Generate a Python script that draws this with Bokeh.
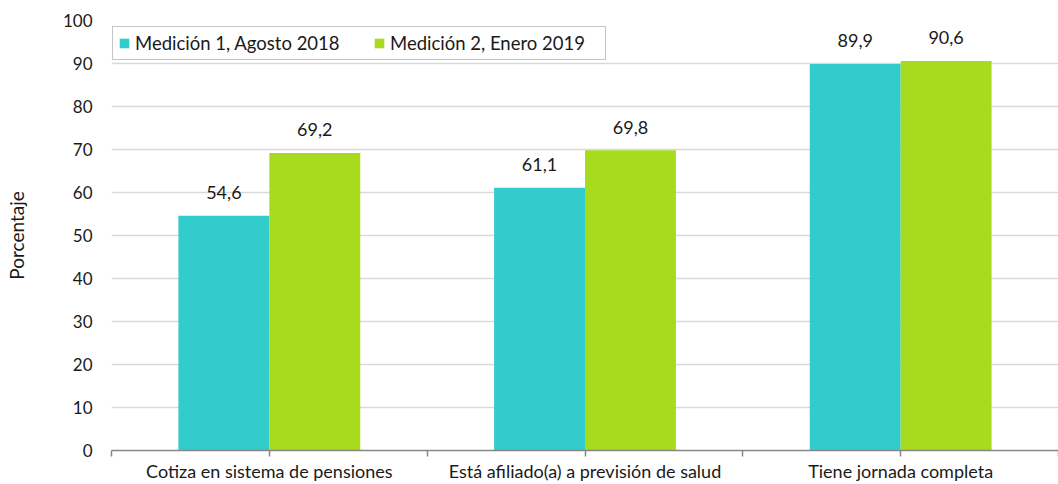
from bokeh.plotting import figure
from bokeh.models import ColumnDataSource, LabelSet, FixedTicker, Range1d, Legend, LegendItem
from bokeh.embed import file_html
from bokeh.resources import INLINE
from bokeh.core.properties import value

# ---- data ----
categories = ["Cotiza en sistema de pensiones",
              "Está afiliado(a) a previsión de salud",
              "Tiene jornada completa"]
series_names = ["Medición 1, Agosto 2018", "Medición 2, Enero 2019"]
medicion_1 = [54.6, 61.1, 89.9]
medicion_2 = [69.2, 69.8, 90.6]
y_ticks = [0, 10, 20, 30, 40, 50, 60, 70, 80, 90, 100]
y_label = "Porcentaje"

# ---- style ----
FONT = "Lato"
TEAL = "#33CCCC"
GREEN = "#A8DB1D"
TEXT = "#1a1a1a"
BAR_W = 0.288


def fmt(v):
    return f"{v:.1f}".replace(".", ",")


n = len(categories)
centers = [i + 0.5 for i in range(n)]

p = figure(width=1058, height=484, output_backend="svg", toolbar_location=None,
           x_range=Range1d(0, n), y_range=Range1d(y_ticks[0], y_ticks[-1]),
           min_border_left=111, min_border_top=20, min_border_bottom=33,
           min_border_right=0)
p.outline_line_color = None
p.background_fill_color = "white"

src1 = ColumnDataSource(dict(x=[c - BAR_W / 2 for c in centers], top=medicion_1,
                             label=[fmt(v) for v in medicion_1]))
src2 = ColumnDataSource(dict(x=[c + BAR_W / 2 for c in centers], top=medicion_2,
                             label=[fmt(v) for v in medicion_2]))

r1 = p.vbar(x="x", top="top", width=BAR_W, source=src1, fill_color=TEAL, line_color=None)
r2 = p.vbar(x="x", top="top", width=BAR_W, source=src2, fill_color=GREEN, line_color=None)

for src, bg in ((src1, None), (src2, "white")):
    ls = LabelSet(x="x", y="top", text="label", source=src, y_offset=23,
                  text_align="center", text_baseline="middle",
                  text_font=value(FONT), text_font_size="18px", text_color=TEXT,
                  background_fill_color=bg)
    p.add_layout(ls)

# y axis
p.yaxis.ticker = FixedTicker(ticks=y_ticks)
p.yaxis.axis_line_color = None
p.yaxis.major_tick_line_color = None
p.yaxis.major_tick_out = 0
p.yaxis.major_tick_in = 0
p.yaxis.minor_tick_line_color = None
p.yaxis.major_label_standoff = 19
p.yaxis.major_label_text_font = FONT
p.yaxis.major_label_text_font_size = "17px"
p.yaxis.major_label_text_color = TEXT
p.yaxis.axis_label = y_label
p.yaxis.axis_label_text_font = FONT
p.yaxis.axis_label_text_font_size = "19px"
p.yaxis.axis_label_text_font_style = "normal"
p.yaxis.axis_label_text_color = TEXT
p.yaxis.axis_label_standoff = 32

# x axis: ticks at category boundaries and centres, labels at centres
x_ticks = [i * 0.5 for i in range(2 * n + 1)]
overrides = {t: "" for t in x_ticks}
for c, name in zip(centers, categories):
    overrides[c] = name
p.xaxis.ticker = FixedTicker(ticks=x_ticks, minor_ticks=[])
p.xaxis.major_label_overrides = overrides
p.xaxis.major_label_text_font = FONT
p.xaxis.major_label_text_font_size = "18px"
p.xaxis.major_label_text_color = TEXT
p.xaxis.major_label_standoff = 3
p.xaxis.axis_line_color = "#868686"
p.xaxis.axis_line_width = 1.5
p.xaxis.major_tick_line_color = "#868686"
p.xaxis.major_tick_line_width = 1.5
p.xaxis.major_tick_in = 0
p.xaxis.major_tick_out = 6
p.xaxis.minor_tick_line_color = None

p.xgrid.visible = False
p.ygrid.grid_line_color = "#d9d9d9"
p.ygrid.grid_line_width = 1.5

legend = Legend(items=[LegendItem(label=series_names[0], renderers=[r1]),
                       LegendItem(label=series_names[1], renderers=[r2])],
                orientation="horizontal", location=(1, 390),
                padding=5, spacing=28, margin=0,
                glyph_width=12, glyph_height=12, label_standoff=5,
                label_height=18, label_width=210,
                label_text_font=FONT, label_text_font_size="18.5px", label_text_color=TEXT,
                border_line_color="#8c8c8c", border_line_width=1.3,
                background_fill_color="white", background_fill_alpha=1.0)
p.add_layout(legend)

open("out.html", "w").write(file_html(p, INLINE))
